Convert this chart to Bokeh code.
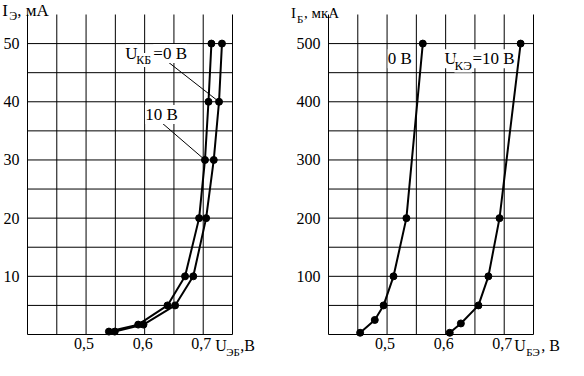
from bokeh.plotting import figure
from bokeh.layouts import row
from bokeh.models import Range1d, Label, LabelSet, ColumnDataSource
from bokeh.embed import file_html
from bokeh.resources import INLINE

FONT = "Liberation Serif, Times New Roman, serif"

# ---- data: left panel (I_E, mA vs U_EB, V) ----
ie_ma = [0.5, 1.7, 5, 10, 20, 30, 40, 50]
ueb_ukb0 = [0.549, 0.598, 0.652, 0.683, 0.705, 0.718, 0.727, 0.732]
ueb_ukb10 = [0.539, 0.589, 0.639, 0.669, 0.693, 0.703, 0.709, 0.714]

# ---- data: right panel (I_B, uA vs U_BE, V) ----
ib_uke0 = [3, 25, 50, 100, 200, 500]
ube_uke0 = [0.454, 0.479, 0.494, 0.511, 0.533, 0.561]
ib_uke10 = [3, 19, 50, 100, 200, 500]
ube_uke10 = [0.607, 0.626, 0.656, 0.673, 0.692, 0.728]

x_ticks = [0.5, 0.6, 0.7]
x_tick_labels = ["0,5", "0,6", "0,7"]
x_grid = [0.4, 0.45, 0.5, 0.55, 0.6, 0.65, 0.7, 0.75]
left_y_ticks = [10, 20, 30, 40, 50]
left_y_grid = [0, 5, 10, 15, 20, 25, 30, 35, 40, 45, 50]
right_y_ticks = [100, 200, 300, 400, 500]
right_y_grid = [0, 50, 100, 150, 200, 250, 300, 350, 400, 450, 500]

X_MIN, X_MAX = 0.4, 0.75

# ---- layout (pixels) ----
H = 358
FRAME_TOP = 14        # px from top where the top of the grid (y_top) sits
FRAME_BOTTOM = 334    # px from top where y = 0 sits
GRID_W = 205          # px for X_MIN..X_MAX


def make_panel(width, left_px, y_top):
    kx = GRID_W / (X_MAX - X_MIN)
    ky = (FRAME_BOTTOM - FRAME_TOP) / y_top
    xr = Range1d(X_MIN - left_px / kx, X_MIN + (width - left_px) / kx)
    yr = Range1d(-(H - FRAME_BOTTOM) / ky, y_top + FRAME_TOP / ky)
    p = figure(width=width, height=H, output_backend="svg", toolbar_location=None,
               x_range=xr, y_range=yr, x_axis_location=None, y_axis_location=None,
               min_border=0)
    p.outline_line_color = None
    p.background_fill_color = "white"
    p.border_fill_color = "white"
    p.xgrid.visible = False
    p.ygrid.visible = False
    return p, kx, ky


def grid_and_ticks(p, kx, ky, y_top, ygrid, yticks):
    # vertical grid lines (up to the top of the plotting area)
    p.segment(x0=x_grid, y0=[0] * len(x_grid), x1=x_grid, y1=[y_top] * len(x_grid),
              line_color="black", line_width=1)
    # horizontal grid lines
    p.segment(x0=[X_MIN] * len(ygrid), y0=ygrid, x1=[X_MAX] * len(ygrid), y1=ygrid,
              line_color="black", line_width=1)
    # x tick labels
    xs = ColumnDataSource(dict(x=x_ticks, y=[-3 / ky] * len(x_ticks), t=x_tick_labels))
    p.add_layout(LabelSet(x="x", y="y", text="t", source=xs, x_offset=-2,
                          text_font=FONT, text_font_size="16px", text_align="center",
                          text_baseline="top", text_color="black"))
    # y tick labels
    ys = ColumnDataSource(dict(x=[X_MIN - 8 / kx] * len(yticks), y=yticks,
                               t=[str(t) for t in yticks]))
    p.add_layout(LabelSet(x="x", y="y", text="t", source=ys,
                          text_font=FONT, text_font_size="16px", text_align="right",
                          text_baseline="middle", text_color="black"))


def lab(p, x, y, text, size, baseline="middle", x_offset=0, bg=None):
    p.add_layout(Label(x=x, y=y, text=text, x_offset=x_offset,
                       text_font=FONT, text_font_size=size, text_color="black",
                       text_baseline=baseline, text_align="left",
                       background_fill_color=bg))


def curve(p, xs, ys):
    r1 = p.line(xs, ys, line_color="black", line_width=2)
    r2 = p.scatter(xs, ys, size=7, marker="circle", fill_color="black", line_color="black")
    r1.level = "overlay"
    r2.level = "overlay"


# ---------------- left panel ----------------
p1, kx1, ky1 = make_panel(288, 27, 55)
grid_and_ticks(p1, kx1, ky1, 55, left_y_grid, left_y_ticks)
p1.segment(x0=[0.638, 0.628], y0=[47.0, 36.5],
           x1=[ueb_ukb0[6], ueb_ukb10[5]], y1=[ie_ma[6], ie_ma[5]],
           line_color="black", line_width=1)
curve(p1, ueb_ukb10, ie_ma)
curve(p1, ueb_ukb0, ie_ma)
lab(p1, 0.567, 48.3, "U", "17px", bg="white")
lab(p1, 0.567, 47.2, "КБ", "12px", x_offset=11, bg="white")
lab(p1, 0.567, 48.3, "=0 В", "17px", x_offset=28, bg="white")
lab(p1, 0.601, 37.8, "10 В", "17px", bg="white")
# axis titles
lab(p1, 0.357, 57.3, "I", "17px", baseline="top")
lab(p1, 0.357, 55.9, "Э", "12px", baseline="top", x_offset=7)
lab(p1, 0.357, 57.3, ", мА", "17px", baseline="top", x_offset=15)
lab(p1, 0.7, -0.5, "U", "16px", baseline="top", x_offset=12)
lab(p1, 0.7, -1.9, "ЭБ", "11px", baseline="top", x_offset=23)
lab(p1, 0.7, -0.5, ",В", "16px", baseline="top", x_offset=37)

# ---------------- right panel ----------------
p2, kx2, ky2 = make_panel(280, 40, 550)
grid_and_ticks(p2, kx2, ky2, 550, right_y_grid, right_y_ticks)
curve(p2, ube_uke0, ib_uke0)
curve(p2, ube_uke10, ib_uke10)
lab(p2, 0.501, 474, "0 В", "17px", bg="white")
lab(p2, 0.598, 474, "U", "17px", bg="white")
lab(p2, 0.598, 463, "КЭ", "13px", x_offset=10, bg="white")
lab(p2, 0.598, 474, "=10 В", "17px", x_offset=28, bg="white")
lab(p2, 0.336, 566, "I", "15px", baseline="top")
lab(p2, 0.336, 553, "Б", "11px", baseline="top", x_offset=6)
lab(p2, 0.336, 566, ", мкА", "15px", baseline="top", x_offset=13)
lab(p2, 0.7, -5, "U", "16px", baseline="top", x_offset=10)
lab(p2, 0.7, -19, "БЭ", "11px", baseline="top", x_offset=22)
lab(p2, 0.7, -5, ", В", "16px", baseline="top", x_offset=37)

layout = row(p1, p2)
open("out.html", "w").write(file_html(layout, INLINE))
